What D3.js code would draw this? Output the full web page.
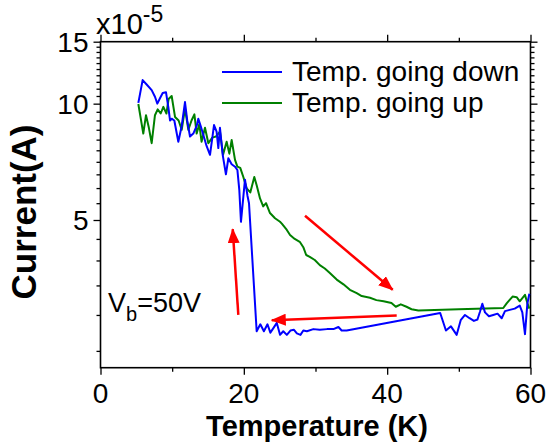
<!DOCTYPE html>
<html><head><meta charset="utf-8">
<script src="https://cdn.jsdelivr.net/npm/d3@7"></script>
<style>
html,body{margin:0;padding:0;background:#fff;}
svg{display:block;font-family:"Liberation Sans",Arial,Helvetica,sans-serif;}
</style></head><body>
<svg id="chart" width="552" height="446"></svg>
<script>
// Cooling run: temperature (K) and current (units of 1e-5 A)
const downT = [5.28,5.88,6.44,7.14,7.6,7.93,8.3,8.68,9.14,9.46,9.7,9.93,10.3,10.86,11.33,11.79,12.1,12.49,12.95,13.42,13.65,13.98,14.8,15.28,15.84,16.2,16.44,16.67,17.05,17.5,17.84,18.3,18.77,19.1,19.37,19.6,19.93,20.16,20.5,20.72,21.79,22.3,22.8,23.3,23.7,24.1,24.6,25.05,25.5,26.0,26.5,27.0,27.4,27.9,28.3,28.8,29.7,30.6,31.6,32.5,33.2,33.65,34.35,47.4,48.2,48.9,49.7,50.26,50.86,51.5,52.1,52.6,52.95,53.28,53.65,54.2,54.8,55.4,55.98,56.44,57.1,57.8,58.5,58.86,59.23,59.56,59.84];
const downI = [10.05,11.63,11.3,10.9,10.45,10.0,10.35,10.7,10.75,9.8,9.0,9.1,9.0,7.9,8.7,10.1,9.0,8.15,8.3,8.7,9.1,8.7,7.7,7.3,8.75,8.4,7.6,8.6,7.3,6.5,7.15,6.9,6.8,6.67,5.93,4.95,5.7,6.3,5.75,5.5,2.76,2.86,2.76,2.86,2.74,2.8,2.88,2.71,2.76,2.71,2.77,2.78,2.73,2.71,2.77,2.76,2.79,2.78,2.79,2.79,2.82,2.77,2.77,3.03,2.77,2.83,2.71,2.92,3.0,2.95,2.91,2.93,3.05,3.18,3.04,2.98,3.0,3.02,2.95,3.06,3.08,3.1,3.15,3.04,2.72,3.18,3.35];

// Warming run
const upT = [5.28,5.97,6.35,6.75,7.14,7.6,7.98,8.4,8.77,9.2,9.5,9.93,10.4,10.9,11.33,11.79,12.26,12.7,13.1,13.42,13.79,14.1,14.58,15.05,15.6,16.1,16.67,17.1,17.6,17.98,18.3,18.77,19.1,19.5,19.93,20.4,20.9,21.46,21.79,22.26,22.7,23.1,23.65,24.35,25.05,25.3,26.0,26.45,27.1,27.8,28.3,28.7,29.2,29.9,30.6,31.3,32.0,32.96,33.9,34.8,35.75,36.45,37.6,38.5,39.5,40.6,41.2,41.9,42.7,43.4,44.35,50.0,56.2,56.7,57.5,58.07,58.5,59.23,59.56,59.84];
const upI = [9.98,8.3,9.3,8.6,7.83,9.3,9.65,9.4,9.8,9.4,10.3,10.5,9.2,9.0,8.5,9.7,8.5,9.0,9.35,8.3,8.8,7.9,8.6,7.83,8.1,8.15,8.4,7.3,7.9,7.35,7.98,7.08,6.8,6.75,6.4,5.99,5.85,6.4,6.1,5.65,5.4,5.5,5.2,5.05,4.95,4.9,4.73,4.6,4.5,4.43,4.3,4.12,4.08,4.01,3.9,3.83,3.74,3.61,3.52,3.42,3.36,3.31,3.28,3.24,3.22,3.19,3.13,3.17,3.13,3.09,3.07,3.09,3.11,3.19,3.3,3.29,3.22,3.33,3.19,3.1];

const seriesNames = ["Temp. going down", "Temp. going up"];
const seriesColors = ["#0000ff", "#008000"];

const xMajor = [0, 20, 40, 60];
const xMinor = [10, 30, 50];
const yMajor = [5, 10, 15];
const yMinor = [2.5,3,3.5,4,4.5,5.5,6,6.5,7,7.5,8,8.5,9,9.5,10.5,11,11.5,12,12.5,13,13.5,14,14.5];

// Sweep-direction arrows: [T start, I start, T end, I end]
const arrowUp    = [19.23, 3.0, 18.45, 4.75];
const arrowLeft  = [41.33, 2.99, 23.9, 2.92];
const arrowDown  = [28.54, 5.12, 40.77, 3.42];

const bias = {label: "V", sub: "b", rest: "=50V"};

const L = 100.5, R = 530.5, T = 41.7, B = 367.7;

const svg = d3.select("#chart");

const x = d3.scaleLinear().domain([0, 60]).range([L, R]);
const y = d3.scalePow().exponent(-0.17).domain([2.3, 15]).range([B, T]);

// ticks on all four sides, pointing outward
function ticks(axisFn, scale, values, size, transform) {
  const g = svg.append("g").attr("transform", transform)
    .call(axisFn(scale).tickValues(values).tickSize(size).tickFormat(""));
  g.select(".domain").remove();
  g.selectAll(".tick line").attr("stroke", "#000").attr("stroke-width", 1.3);
  return g;
}
ticks(d3.axisBottom, x, xMajor, 7, `translate(0,${B})`);
ticks(d3.axisBottom, x, xMinor, 4, `translate(0,${B})`);
ticks(d3.axisTop, x, xMajor, 7, `translate(0,${T})`);
ticks(d3.axisTop, x, xMinor, 4, `translate(0,${T})`);
ticks(d3.axisLeft, y, yMajor, 7, `translate(${L},0)`);
ticks(d3.axisLeft, y, yMinor, 4, `translate(${L},0)`);
ticks(d3.axisRight, y, yMajor, 7, `translate(${R},0)`);
ticks(d3.axisRight, y, yMinor, 4, `translate(${R},0)`);

// frame
svg.append("rect").attr("x", L).attr("y", T).attr("width", R - L).attr("height", B - T)
  .attr("fill", "none").attr("stroke", "#000").attr("stroke-width", 1.6);

// tick labels
svg.append("g").selectAll("text").data(xMajor).join("text")
  .attr("x", d => x(d)).attr("y", B + 35)
  .attr("text-anchor", "middle").attr("font-size", 28).text(d => d);
svg.append("g").selectAll("text").data(yMajor).join("text")
  .attr("x", L - 12).attr("y", d => y(d) + 10)
  .attr("text-anchor", "end").attr("font-size", 28).text(d => d);

// exponent multiplier
const mult = svg.append("text").attr("x", 96).attr("y", 34).attr("font-size", 29);
mult.append("tspan").text("x10");
mult.append("tspan").attr("dy", -12).attr("font-size", 23).text("-5");

// axis titles
svg.append("text").attr("x", 317).attr("y", 436)
  .attr("text-anchor", "middle").attr("font-size", 29).attr("font-weight", "bold")
  .text("Temperature (K)");
svg.append("text").attr("transform", "translate(36,212) rotate(-90)")
  .attr("text-anchor", "middle").attr("font-size", 35).attr("font-weight", "bold")
  .text("Current(A)");

// data lines
const line = d3.line().x(d => x(d[0])).y(d => y(d[1]));
const series = [d3.zip(downT, downI), d3.zip(upT, upI)];
// warming run drawn first so the cooling trace sits on top where they overlap
[1, 0].forEach(i => {
  svg.append("path").datum(series[i]).attr("d", line)
    .attr("fill", "none").attr("stroke", seriesColors[i]).attr("stroke-width", 2)
    .attr("stroke-linejoin", "round");
});

// legend
const lg = svg.append("g");
seriesNames.forEach((name, i) => {
  const ly = 72 + i * 31;
  lg.append("line").attr("x1", 222).attr("x2", 282).attr("y1", ly).attr("y2", ly)
    .attr("stroke", seriesColors[i]).attr("stroke-width", 2);
  lg.append("text").attr("x", 292).attr("y", ly + 9).attr("font-size", 28).text(name);
});

// arrows
svg.append("defs").append("marker").attr("id", "head")
  .attr("markerUnits", "userSpaceOnUse").attr("markerWidth", 16).attr("markerHeight", 12)
  .attr("refX", 14).attr("refY", 6).attr("orient", "auto")
  .append("path").attr("d", "M0,0 L15,6 L0,12 Z").attr("fill", "#ff0000");
[arrowUp, arrowLeft, arrowDown].forEach(a => {
  svg.append("line")
    .attr("x1", x(a[0])).attr("y1", y(a[1])).attr("x2", x(a[2])).attr("y2", y(a[3]))
    .attr("stroke", "#ff0000").attr("stroke-width", 2.5).attr("marker-end", "url(#head)");
});

// bias annotation
const vb = svg.append("text").attr("x", 108).attr("y", 312).attr("font-size", 27);
vb.append("tspan").text(bias.label);
vb.append("tspan").attr("dy", 9).attr("font-size", 20).text(bias.sub);
vb.append("tspan").attr("dy", -9).text(bias.rest);
</script>
</body></html>
